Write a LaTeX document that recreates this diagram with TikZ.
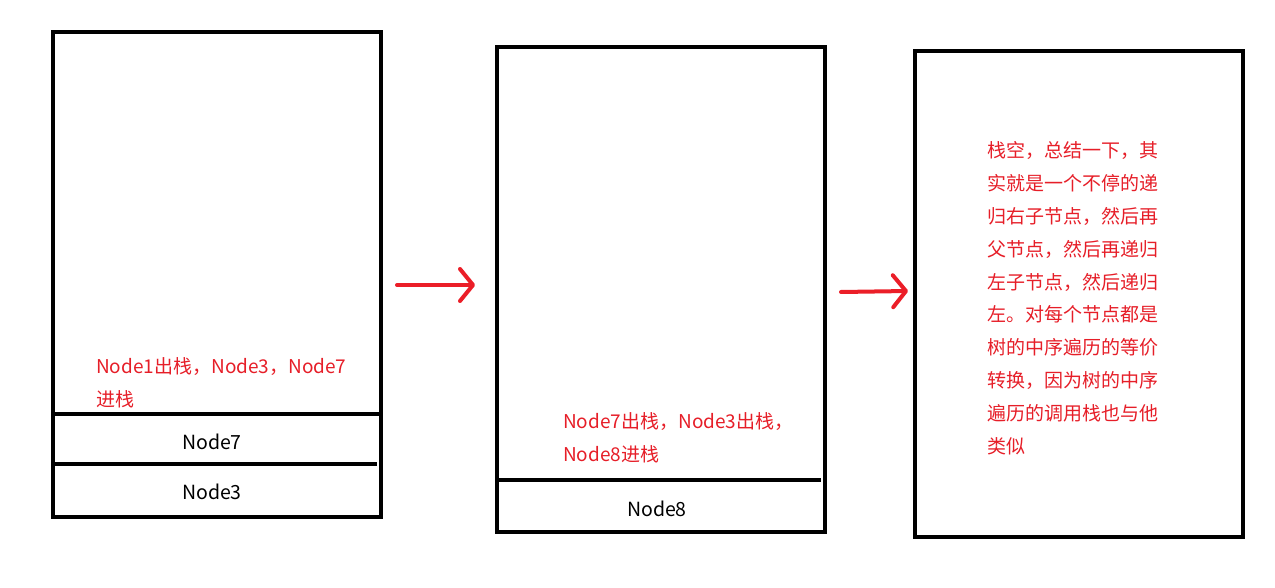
\documentclass[tikz,border=0pt]{standalone}
\usepackage{fontspec}
\newfontfamily\cjk{Noto Sans CJK SC}
\usetikzlibrary{arrows.meta}
\definecolor{redtxt}{RGB}{230,30,40}
\definecolor{redarr}{RGB}{235,30,40}
\tikzset{
  stackbox/.style={draw=black, line width=4pt, inner sep=0pt, outer sep=0pt, minimum width=328pt, minimum height=485pt},
  divider/.style={draw=black, line width=3.5pt},
  label/.style={font=\cjk\fontsize{19.5}{22}\selectfont, text=black, inner sep=0pt},
  note/.style={font=\cjk\fontsize{19}{32.8}\selectfont, text=redtxt, inner sep=0pt, align=left, anchor=base west},
  flow/.style={draw=redarr, line width=4pt, line cap=round, -{Straight Barb[length=13pt, width=32pt, line cap=round, line join=round]}}
}
\begin{document}
\begin{tikzpicture}[x=1pt, y=-1pt]
\useasboundingbox (0,0) rectangle (1275,588);
% boxes
\node[stackbox] (b1) at (217,274.5) {};
\node[stackbox] (b2) at (661,289.5) {};
\node[stackbox] (b3) at (1079,294) {};
% dividers
\coordinate (d1l) at (53,414); \coordinate (d1r) at (381,414);
\draw[divider] (d1l) -- (d1r);
\coordinate (d2l) at (53,464); \coordinate (d2r) at (377,464);
\draw[divider] (d2l) -- (d2r);
\coordinate (d3l) at (497,480); \coordinate (d3r) at (821,480);
\draw[divider] (d3l) -- (d3r);
% stack entries
\node[label] (n7) at (212,442) {Node7};
\node[label] (n3) at (212,492) {Node3};
\node[label] (n8) at (657,509) {Node8};
% notes (anchored at the baseline of their last line)
\node[note] (t1) at (96,406) {Node1出栈，Node3，Node7\\进栈};
\node[note] (t2) at (563,461) {Node7出栈，Node3出栈，\\Node8进栈};
\node[note] (t3) at (987,453) {栈空，总结一下，其\\实就是一个不停的递\\归右子节点，然后再\\父节点，然后再递归\\左子节点，然后递归\\左。对每个节点都是\\树的中序遍历的等价\\转换，因为树的中序\\遍历的调用栈也与他\\类似};
% arrows
\coordinate (a1s) at (397,285); \coordinate (a1e) at (475,285);
\draw[flow] (a1s) -- (a1e);
\coordinate (a2s) at (841,292); \coordinate (a2e) at (908,291);
\draw[flow] (a2s) -- (a2e);
\end{tikzpicture}
\end{document}
